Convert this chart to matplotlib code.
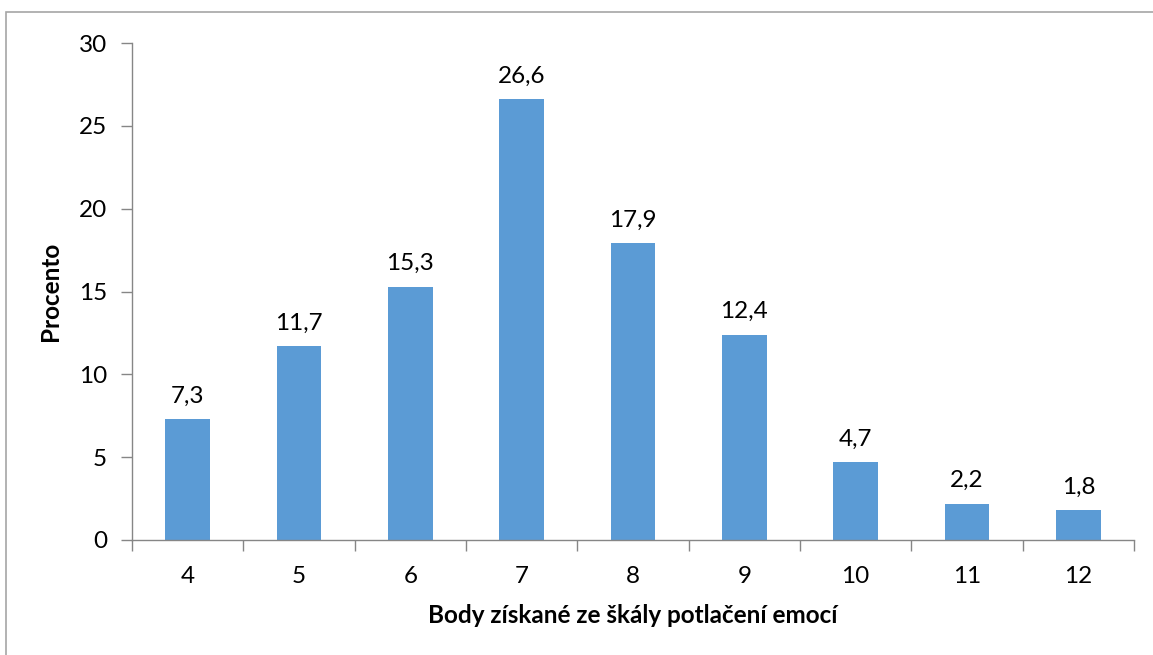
import matplotlib
matplotlib.use("Agg")
import matplotlib.pyplot as plt
from matplotlib.patches import Rectangle

categories = ["4", "5", "6", "7", "8", "9", "10", "11", "12"]
values = [7.3, 11.7, 15.3, 26.6, 17.9, 12.4, 4.7, 2.2, 1.8]
y_ticks = [0, 5, 10, 15, 20, 25, 30]

plt.rcParams["font.family"] = ["Lato", "DejaVu Sans"]
FS = 17.5

W, H = 1153, 655
fig = plt.figure(figsize=(W / 100, H / 100), dpi=100)
ax = fig.add_axes([132 / W, 1 - 540 / H, (1134 - 132) / W, (540 - 43) / H])

# outer chart frame (runs off the right and bottom edges)
fig.patches.append(Rectangle((6 / W, -0.1), 1.2, 1 - 12 / H + 0.1,
                             transform=fig.transFigure, fill=False,
                             edgecolor="#a6a6a6", linewidth=1.2))

x = list(range(len(categories)))
ax.bar(x, values, width=0.4, color="#5b9bd5", edgecolor="none", zorder=2)
for xi, v in zip(x, values):
    ax.annotate(f"{v:.1f}".replace(".", ","), (xi, v), xytext=(0, 9),
                textcoords="offset points", ha="center", va="bottom",
                fontsize=FS, color="black")

ax.set_xlim(-0.5, len(categories) - 0.5)
ax.set_ylim(0, 30)
ax.set_yticks(y_ticks)
ax.set_yticklabels([str(t) for t in y_ticks], fontsize=FS)
ax.set_xticks(x)
ax.set_xticklabels(categories, fontsize=FS)
ax.set_xticks([i - 0.5 for i in range(len(categories) + 1)], minor=True)

ax.tick_params(axis="x", which="major", length=0, pad=19)
ax.tick_params(axis="x", which="minor", length=8, color="#868686", width=1)
ax.tick_params(axis="y", length=8, color="#868686", width=1, pad=10)

for s in ["top", "right"]:
    ax.spines[s].set_visible(False)
for s in ["left", "bottom"]:
    ax.spines[s].set_color("#868686")
    ax.spines[s].set_linewidth(1)

ax.set_ylabel("Procento", fontsize=FS, fontweight="bold", labelpad=12)
ax.set_xlabel("Body získané ze škály potlačení emocí", fontsize=FS,
              fontweight="bold", labelpad=12)

fig.savefig("out.png", dpi=100, facecolor="white")
